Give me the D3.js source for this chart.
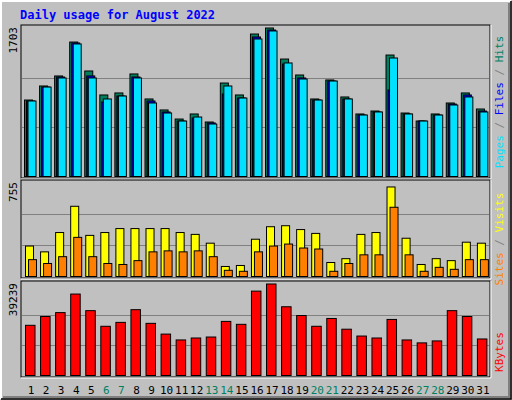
<!DOCTYPE html>
<html><head><meta charset="utf-8">
<script src="https://cdn.jsdelivr.net/npm/d3@7"></script>
<style>body{margin:0;background:#fff}</style>
</head><body>
<svg id="chart" width="512" height="400"></svg>
<script>
// daily values
var days = d3.range(1, 32);
var weekends = [6, 7, 13, 14, 20, 21, 27, 28];
var hits = [877,1038,1153,1542,1210,935,958,1176,889,763,659,717,625,1072,935,1634,1703,1347,1164,889,1107,912,717,751,1393,728,636,717,843,958,774];
var files = [866,1026,1141,1531,1153,854,923,1141,866,740,636,671,614,946,900,1600,1680,1290,1130,877,1095,889,705,740,992,717,636,705,831,935,751];
var pages = [866,1026,1130,1520,1130,889,923,1130,843,728,636,682,602,1038,900,1577,1669,1302,1118,877,1095,889,705,740,1359,717,636,705,820,912,740];
var visits = [246,199,355,567,332,355,387,387,387,387,355,340,269,81,89,301,402,410,379,348,113,144,340,355,723,309,97,144,128,277,269];
var sites = [136,105,160,316,160,105,97,128,199,207,199,207,160,50,42,199,246,262,230,222,42,105,175,175,559,175,42,74,58,136,136];
var kbytes = [21526,25296,26971,34928,27808,21108,22783,28227,22364,17757,15244,16082,16501,23202,21945,36184,39239,29484,25714,21108,24458,19851,16920,16082,24039,15244,13988,14826,27808,25296,15663];

const svg = d3.select("#chart");
const font = "'DejaVu Sans Mono', monospace";

// frame
svg.append("rect").attr("width", 512).attr("height", 400).attr("fill", "#c0c0c0");
svg.append("path").attr("d", "M1,399V1H511").attr("stroke", "#fff").attr("stroke-width", 2).attr("fill", "none");
svg.append("path").attr("d", "M1,399H511V1").attr("stroke", "#000").attr("stroke-width", 1.5).attr("fill", "none");
svg.append("path").attr("d", "M3,397H509V3").attr("stroke", "#808080").attr("stroke-width", 2).attr("fill", "none");

svg.append("text").text("Daily usage for August 2022")
  .attr("x", 20).attr("y", 19).attr("font-family", font).attr("font-weight", "bold")
  .attr("font-size", 12).attr("fill", "#0000ff");

const x = d3.scaleBand().domain(days).range([23.5, 488.5]).paddingInner(0.33).paddingOuter(0.1);

function panel(top, bottom, max, label) {
  svg.append("rect").attr("x", 21).attr("y", top).attr("width", 469).attr("height", bottom - top)
    .attr("fill", "#c0c0c0").attr("stroke", "#000");
  svg.append("path").attr("d", `M21,${bottom + 1}H491V${top}`).attr("stroke", "#fff").attr("fill", "none");
  const y = d3.scaleLinear().domain([0, max]).range([bottom - 1.5, top + 3]);
  [1 / 3, 2 / 3].forEach(f => {
    svg.append("line").attr("x1", 22).attr("x2", 489)
      .attr("y1", Math.round(y(max * f)) + 0.5).attr("y2", Math.round(y(max * f)) + 0.5)
      .attr("stroke", "#808080");
  });
  svg.append("text").text(label)
    .attr("transform", `translate(17,${top + 2}) rotate(-90)`)
    .attr("text-anchor", "end").attr("font-family", font).attr("font-size", 11).attr("fill", "#000");
  return y;
}

function bars(data, y, dx, w, color) {
  svg.append("g").selectAll("rect").data(data).join("rect")
    .attr("x", (d, i) => x(days[i]) + dx + 0.5)
    .attr("y", d => y(d))
    .attr("width", w).attr("height", d => y(0) - y(d))
    .attr("fill", color).attr("stroke", "#000");
}

const y1 = panel(25, 178, 1703, "1703");
bars(hits, y1, -1, 8, "#007f5f");
bars(files, y1, 1, 8, "#0000ff");
bars(pages, y1, 2.5, 8, "#00e0ff");

const y2 = panel(180, 278, 755, "755");
bars(visits, y2, 0, 8, "#ffff00");
bars(sites, y2, 3, 8, "#ff8000");

const y3 = panel(281, 377, 39239, "39239");
bars(kbytes, y3, 0, 9.5, "#ff0000");

// day labels
svg.append("g").selectAll("text").data(days).join("text")
  .text(d => d)
  .attr("x", d => x(d) + x.bandwidth() / 2 + 1)
  .attr("y", 394)
  .attr("text-anchor", "middle").attr("font-family", font).attr("font-size", 11)
  .attr("fill", d => weekends.includes(d) ? "#008060" : "#000");

// right legends
function legend(cy, parts) {
  const t = svg.append("text")
    .attr("transform", `translate(503,${cy}) rotate(-90)`)
    .attr("text-anchor", "middle").attr("font-family", font).attr("font-size", 11);
  parts.forEach(p => t.append("tspan").text(p[0]).attr("fill", p[1]));
}
legend(102, [["Pages", "#00e0ff"], [" / ", "#808080"], ["Files", "#0000ff"], [" / ", "#808080"], ["Hits", "#007f5f"]]);
legend(239, [["Sites", "#ff8000"], [" / ", "#808080"], ["Visits", "#ffff00"]]);
legend(352, [["KBytes", "#ff0000"]]);
</script>
</body></html>
